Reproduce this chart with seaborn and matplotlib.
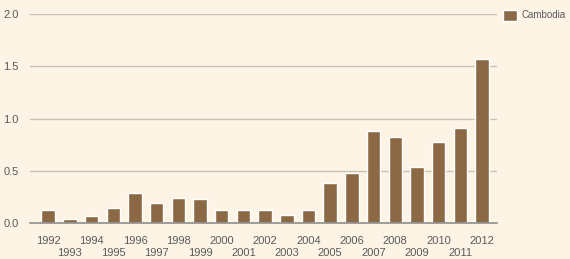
import pandas as pd
import matplotlib
matplotlib.use("Agg")
import matplotlib.pyplot as plt
import seaborn as sns

# data
years = [str(y) for y in range(1992, 2013)]
values = [0.13, 0.04, 0.07, 0.145, 0.285, 0.19, 0.24, 0.23, 0.13, 0.13, 0.13,
          0.08, 0.13, 0.38, 0.48, 0.88, 0.82, 0.54, 0.78, 0.91, 1.57]
country = "Cambodia"

BG = "#fdf4e5"
BAR = "#8b6944"
GRID = "#c9c1b5"
TEXT = "#5a5a5a"

df = pd.DataFrame({"year": years, "value": values, "country": country})

sns.set_theme(style="white")
plt.rcParams["font.family"] = ["Liberation Sans", "DejaVu Sans"]

fig = plt.figure(figsize=(5.7, 2.59), dpi=100, facecolor=BG)
ax = fig.add_axes([0.0526, 0.138, 0.872 - 0.0526, 0.946 - 0.138])
ax.set_facecolor(BG)

sns.barplot(data=df, x="year", y="value", hue="country", palette=[BAR],
            width=0.62, dodge=False, saturation=1, ax=ax)

ax.set_ylim(0, 2.0)
ax.set_xlim(-0.84, 20.69)
ax.set_yticks([0, 0.5, 1.0, 1.5, 2.0])
ax.set_yticklabels(["0.0", "0.5", "1.0", "1.5", "2.0"])
ax.yaxis.grid(True, color=GRID, linewidth=1)
ax.set_axisbelow(True)

# even years on the first row, odd years staggered below
even_pos = list(range(0, len(years), 2))
odd_pos = list(range(1, len(years), 2))
ax.set_xticks(even_pos)
ax.set_xticklabels([years[i] for i in even_pos])
ax.set_xticks(odd_pos, minor=True)
ax.set_xticklabels([years[i] for i in odd_pos], minor=True)
ax.tick_params(axis="both", which="both", length=0, labelsize=8, labelcolor=TEXT)
ax.tick_params(axis="y", pad=8)
ax.tick_params(axis="x", which="major", pad=9)
ax.tick_params(axis="x", which="minor", pad=18)

for s in ["top", "right", "left"]:
    ax.spines[s].set_visible(False)
ax.spines["bottom"].set_color("#8f8f8f")
ax.spines["bottom"].set_linewidth(1.2)

ax.set_xlabel("")
ax.set_ylabel("")

leg = ax.legend(loc="upper left", bbox_to_anchor=(1.005, 1.04), frameon=False,
                fontsize=7, handlelength=1.4, handleheight=1.4, handletextpad=0.5,
                borderaxespad=0)
for t in leg.get_texts():
    t.set_color(TEXT)

fig.savefig("out.png", dpi=100, facecolor=BG)
